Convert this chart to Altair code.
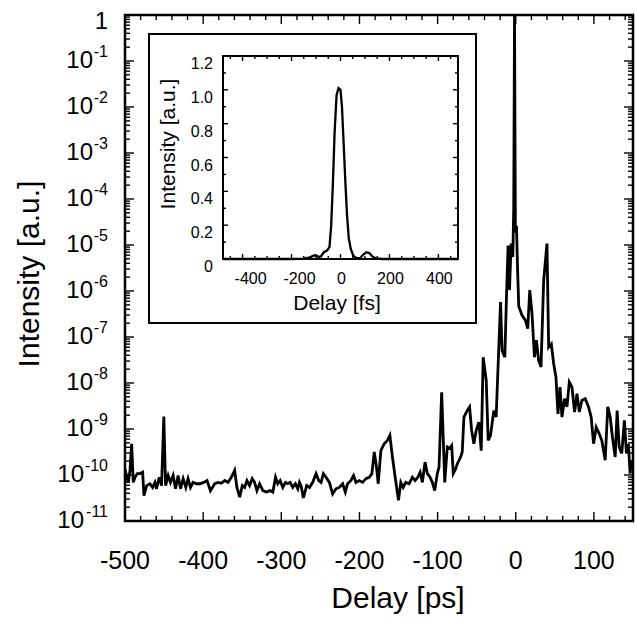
import altair as alt
import pandas as pd

# ---------------- data ----------------
delay_ps = [
    -500.0, -498.7, -495.8, -493.6, -491.5, -489.4, -487.2, -484.3, -480.9, -477.4,
    -475.8, -472.3, -468.1, -464.7, -461.7, -459.6, -456.2, -453.2, -450.3, -448.1,
    -444.8, -441.8, -438.4, -435.4, -432.0, -429.0, -425.6, -422.2, -419.3, -416.2,
    -412.9, -408.6, -404.3, -399.2, -395.0, -390.7, -385.2, -381.0, -376.7, -372.4,
    -368.2, -363.9, -359.7, -356.8, -353.3, -349.9, -346.9, -344.0, -340.6, -337.2,
    -334.2, -331.2, -327.8, -323.6, -319.3, -314.2, -310.8, -307.4, -304.5, -301.4,
    -298.1, -294.6, -291.7, -288.7, -285.3, -281.9, -278.9, -276.8, -274.5, -271.8,
    -267.5, -264.0, -259.8, -255.5, -252.1, -249.1, -246.2, -242.8, -238.5, -234.3,
    -230.0, -225.8, -221.5, -218.1, -215.2, -210.9, -207.5, -204.5, -200.3, -196.0,
    -191.8, -187.5, -184.1, -181.1, -178.2, -176.0, -172.6, -168.4, -164.2, -161.1,
    -157.8, -154.3, -150.1, -147.1, -144.1, -140.7, -136.5, -132.3, -128.8, -125.4,
    -122.4, -119.5, -116.1, -113.1, -109.7, -106.8, -103.7, -100.4, -98.2, -94.8,
    -90.9, -87.6, -84.5, -82.0, -80.0, -76.9, -74.9, -70.6, -68.5, -66.3,
    -62.2, -59.1, -56.5, -53.6, -50.6, -47.2, -44.2, -41.7, -37.8, -35.3,
    -32.3, -28.1, -25.1, -21.7, -19.5, -17.5, -14.0, -11.9, -9.8, -8.0,
    -6.0, -3.8, -2.6, -1.6, -0.5, 1.0, 2.5, 3.8, 8.0, 12.4,
    15.3, 17.9, 20.8, 23.9, 26.4, 29.3, 32.3, 35.7, 39.9, 42.1,
    45.5, 48.5, 51.4, 54.0, 56.6, 59.1, 62.5, 65.5, 68.5, 71.9,
    75.3, 78.3, 81.3, 84.6, 88.9, 93.1, 96.5, 99.5, 102.9, 106.7,
    110.1, 114.4, 117.7, 120.8, 123.7, 127.2, 129.7, 132.3, 135.6, 139.0,
    141.6, 144.1, 146.3, 148.3,
]
log10_intensity = [
    -10.05, -9.97, -10.16, -9.90, -9.32, -10.16, -10.05, -9.97, -9.97, -9.94,
    -10.45, -10.23, -10.19, -10.27, -10.16, -10.30, -10.05, -10.23, -8.73, -10.23,
    -10.01, -10.16, -10.01, -10.30, -10.01, -10.30, -10.08, -10.27, -10.08, -10.27,
    -10.16, -10.19, -10.19, -10.16, -10.12, -10.34, -10.19, -10.16, -10.18, -10.12,
    -10.16, -10.05, -9.90, -10.27, -10.48, -10.23, -10.27, -10.12, -10.23, -10.08,
    -10.16, -10.34, -10.19, -10.34, -10.37, -10.34, -10.37, -10.05, -10.19, -10.12,
    -10.27, -10.16, -10.19, -10.16, -10.27, -10.19, -10.30, -10.16, -10.25, -10.50,
    -10.23, -10.27, -10.16, -9.97, -10.12, -10.16, -9.97, -10.05, -10.16, -10.41,
    -10.30, -10.27, -10.19, -10.37, -10.19, -10.12, -10.01, -10.16, -10.12, -10.16,
    -10.08, -10.05, -9.97, -9.50, -9.83, -10.19, -9.47, -9.32, -9.25, -9.14,
    -9.61, -10.05, -10.55, -10.16, -10.27, -10.16, -10.19, -10.05, -10.12, -10.05,
    -9.94, -10.16, -9.72, -9.97, -10.05, -10.16, -10.34, -9.97, -9.83, -8.20,
    -10.16, -9.39, -9.42, -9.36, -9.97, -9.87, -9.76, -9.61, -9.50, -8.74,
    -8.60, -8.52, -9.03, -9.32, -9.03, -8.85, -9.47, -7.44, -7.94, -9.25,
    -9.14, -8.60, -8.74, -7.22, -6.24, -7.29, -7.44, -6.13, -5.01, -5.98,
    -4.97, -5.26, -4.20, 0.0, -4.68, -4.65, -5.62, -6.33, -6.53, -6.64,
    -6.82, -5.98, -6.49, -7.44, -7.07, -7.51, -7.65, -5.77, -4.97, -7.22,
    -7.15, -7.58, -7.87, -8.67, -8.09, -8.74, -8.34, -8.52, -7.98, -8.09,
    -8.63, -8.23, -8.63, -8.38, -8.34, -8.52, -8.74, -9.32, -8.96, -9.10,
    -9.25, -9.68, -8.52, -8.74, -9.18, -9.61, -8.60, -9.39, -9.53, -8.81,
    -9.53, -9.32, -9.97, -9.68,
]

inset_fs = [
    -480, -200, -150, -125, -110, -100, -90, -80, -68, -55,
    -45, -38, -31, -24, -16, -8, 0, 6, 13, 20,
    27, 34, 42, 52, 65, 80, 92, 105, 118, 130,
    145, 170, 480,
]
inset_intensity = [
    0.0, 0.0, 0.002, 0.01, 0.02, 0.022, 0.012, 0.015, 0.04, 0.05,
    0.07, 0.2, 0.45, 0.75, 0.97, 1.01, 1.0, 0.9, 0.68, 0.45,
    0.25, 0.12, 0.06, 0.02, 0.005, 0.005, 0.025, 0.04, 0.035, 0.015,
    0.003, 0.0, 0.0,
]

# axis tick values / labels
x_major = [-500, -400, -300, -200, -100, 0, 100]
x_labels = ["-500", "-400", "-300", "-200", "-100", "0", "100"]
x_minor = [v for v in range(-480, 150, 20) if v % 100 != 0]
y_major = [1e-11, 1e-10, 1e-9, 1e-8, 1e-7, 1e-6, 1e-5, 1e-4, 1e-3, 1e-2, 1e-1, 1.0]
y_minor = [m * 10.0 ** e for e in range(-11, 0) for m in range(2, 10)]
y_label_values = [1e-1, 1e-2, 1e-3, 1e-4, 1e-5, 1e-6, 1e-7, 1e-8, 1e-9, 1e-10, 1e-11]
y_label_exponents = ["-1", "-2", "-3", "-4", "-5", "-6", "-7", "-8", "-9", "-10", "-11"]

ix_major = [-400, -200, 0, 200, 400]
ix_labels = ["-400", "-200", "0", "200", "400"]
ix_minor = [-450, -350, -300, -250, -150, -100, -50, 50, 100, 150, 250, 300, 350, 450]
iy_major = [0, 0.2, 0.4, 0.6, 0.8, 1.0, 1.2]
iy_labels = ["0", "0.2", "0.4", "0.6", "0.8", "1.0", "1.2"]
iy_minor = [0.1, 0.3, 0.5, 0.7, 0.9, 1.1]

# ---------------- layout / style ----------------
W, H = 508, 506
FONT = "Liberation Sans"
BLACK = "black"

xs = alt.Scale(domain=[-500, 150], nice=False, zero=False)
ys = alt.Scale(type="log", domain=[1e-11, 1], nice=False)
xi = alt.Scale(domain=[-480, 480], range=[98, 333], nice=False, zero=False)
yi = alt.Scale(domain=[0, 1.2], range=[244, 41], nice=False, zero=False)

main_df = pd.DataFrame({"ps": delay_ps, "I": [10 ** v for v in log10_intensity]})
inset_df = pd.DataFrame({"fs": inset_fs, "I": inset_intensity})


def vticks(vals, scale, y0, y1, field="v"):
    return alt.Chart(pd.DataFrame({field: vals})).mark_rule(color=BLACK, strokeWidth=1.4).encode(
        x=alt.X(f"{field}:Q", scale=scale, axis=None), y=alt.value(y0), y2=alt.value(y1))


def hticks(vals, scale, x0, x1, field="v"):
    return alt.Chart(pd.DataFrame({field: vals})).mark_rule(color=BLACK, strokeWidth=1.4).encode(
        y=alt.Y(f"{field}:Q", scale=scale, axis=None), x=alt.value(x0), x2=alt.value(x1))


def text_const(t, x, y, size, angle=0, align="center", baseline="alphabetic"):
    return alt.Chart(pd.DataFrame({"t": [t]})).mark_text(
        angle=angle, align=align, baseline=baseline, fontSize=size, font=FONT, color=BLACK
    ).encode(x=alt.value(x), y=alt.value(y), text="t:N")


def ylab_text(values, texts, x, size, dy=0):
    return alt.Chart(pd.DataFrame({"v": values, "lab": texts})).mark_text(
        align="right", baseline="middle", fontSize=size, font=FONT, color=BLACK, dy=dy).encode(
        y=alt.Y("v:Q", scale=ys, axis=None), x=alt.value(x), text="lab:N")


main_line = alt.Chart(main_df).mark_line(color=BLACK, strokeWidth=2.8).encode(
    x=alt.X("ps:Q", scale=xs, axis=None),
    y=alt.Y("I:Q", scale=ys, axis=None),
)

xlabels = alt.Chart(pd.DataFrame({"v": x_major, "lab": x_labels})).mark_text(
    align="center", baseline="middle", fontSize=25, font=FONT, color=BLACK).encode(
    x=alt.X("v:Q", scale=xs, axis=None), y=alt.value(H + 40), text="lab:N")

one_digit = [i for i, e in enumerate(y_label_exponents) if len(e) == 2]
two_digit = [i for i, e in enumerate(y_label_exponents) if len(e) == 3]
base_1 = ylab_text([y_label_values[i] for i in one_digit], ["10"] * len(one_digit), -32, 24)
base_2 = ylab_text([y_label_values[i] for i in two_digit], ["10"] * len(two_digit), -41, 24)
expo = ylab_text(y_label_values, y_label_exponents, -17, 16, dy=-9)
ylabel_one = ylab_text([1.0], ["1"], -17, 24, dy=7)

main = alt.layer(
    main_line,
    vticks(x_major, xs, H, H - 9), vticks(x_minor, xs, H, H - 5),
    vticks(x_major, xs, 0, 9), vticks(x_minor, xs, 0, 5),
    hticks(y_major, ys, 0, 9), hticks(y_minor, ys, 0, 5),
    hticks(y_major, ys, W, W - 9), hticks(y_minor, ys, W, W - 5),
    xlabels, base_1, base_2, expo, ylabel_one,
    text_const("Delay [ps]", 273, 593, 30),
    text_const("Intensity [a.u.]", -86, 259, 30, angle=270),
)

# ---------------- inset ----------------
outer_box = alt.Chart(pd.DataFrame({"a": [0]})).mark_rect(
    fill="white", stroke=BLACK, strokeWidth=2).encode(
    x=alt.value(24), x2=alt.value(351), y=alt.value(19), y2=alt.value(308))
inner_box = alt.Chart(pd.DataFrame({"a": [0]})).mark_rect(
    fill="white", stroke=BLACK, strokeWidth=2).encode(
    x=alt.value(98), x2=alt.value(333), y=alt.value(41), y2=alt.value(244))
inset_line = alt.Chart(inset_df).mark_line(color=BLACK, strokeWidth=2.3).encode(
    x=alt.X("fs:Q", scale=xi, axis=None), y=alt.Y("I:Q", scale=yi, axis=None))

iylab = alt.Chart(pd.DataFrame({"w": iy_major, "lab": iy_labels})).mark_text(
    align="right", baseline="middle", fontSize=16, font=FONT, color=BLACK, dy=8).encode(
    y=alt.Y("w:Q", scale=yi, axis=None), x=alt.value(88), text="lab:N")
neg = [i for i, v in enumerate(ix_major) if v < 0]
pos = [i for i, v in enumerate(ix_major) if v >= 0]
ixlab_neg = alt.Chart(pd.DataFrame({"u": [ix_major[i] for i in neg],
                                    "lab": [ix_labels[i] for i in neg]})).mark_text(
    align="center", baseline="middle", fontSize=16, font=FONT, color=BLACK, dx=8).encode(
    x=alt.X("u:Q", scale=xi, axis=None), y=alt.value(264), text="lab:N")
ixlab_pos = alt.Chart(pd.DataFrame({"u": [ix_major[i] for i in pos],
                                    "lab": [ix_labels[i] for i in pos]})).mark_text(
    align="center", baseline="middle", fontSize=16, font=FONT, color=BLACK, dx=1).encode(
    x=alt.X("u:Q", scale=xi, axis=None), y=alt.value(264), text="lab:N")

inset = alt.layer(
    outer_box, inner_box, inset_line,
    vticks(ix_major, xi, 244, 239, "u"), vticks(ix_minor, xi, 244, 241, "u"),
    vticks(ix_major, xi, 41, 46, "u"), vticks(ix_minor, xi, 41, 44, "u"),
    hticks(iy_major, yi, 98, 103, "w"), hticks(iy_minor, yi, 98, 101, "w"),
    hticks(iy_major, yi, 333, 328, "w"), hticks(iy_minor, yi, 333, 330, "w"),
    iylab, ixlab_neg, ixlab_pos,
    text_const("Delay [fs]", 212, 295, 21),
    text_const("Intensity [a.u.]", 50, 129, 21, angle=270),
)

chart = alt.layer(main, inset).resolve_scale(
    x="independent", y="independent"
).properties(
    width=W, height=H,
    autosize=alt.AutoSizeParams(type="none"),
    padding={"left": 125, "top": 15, "right": 3, "bottom": 99},
    background="white",
).configure_view(stroke=BLACK, strokeWidth=2.5)

chart.save("out.html", embed_options={"renderer": "svg", "actions": False})
